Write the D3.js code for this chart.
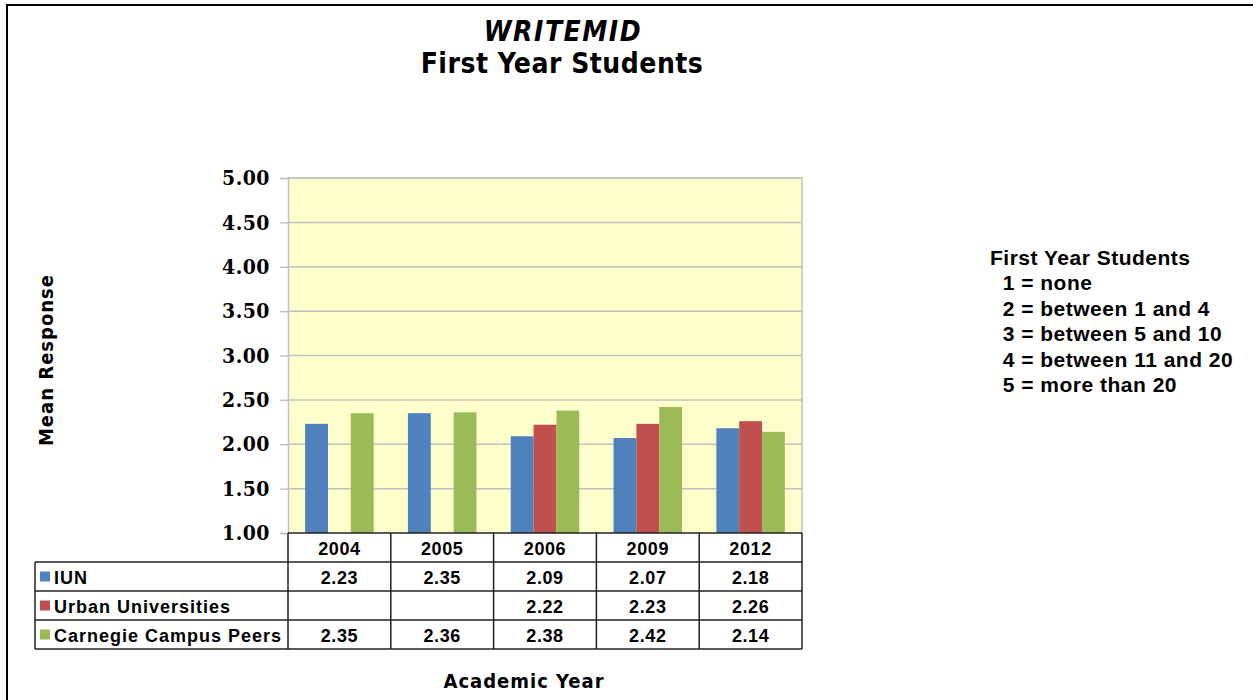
<!DOCTYPE html>
<html>
<head>
<meta charset="utf-8">
<script src="https://cdn.jsdelivr.net/npm/d3@7"></script>
<style>
  body { margin: 0; background: #fff; }
  svg { display: block; }
</style>
</head>
<body>
<svg id="chart" width="1253" height="700"></svg>
<script>
// data
const years = ["2004", "2005", "2006", "2009", "2012"];
const seriesNames = ["IUN", "Urban Universities", "Carnegie Campus Peers"];
const iun = [2.23, 2.35, 2.09, 2.07, 2.18];
const urban = [null, null, 2.22, 2.23, 2.26];
const carnegie = [2.35, 2.36, 2.38, 2.42, 2.14];
const colors = ["#4f81bd", "#c0504d", "#9bbb59"];
const yTicks = [1, 1.5, 2, 2.5, 3, 3.5, 4, 4.5, 5];
const legendLines = ["First Year Students", "  1 = none", "  2 = between 1 and 4",
	"  3 = between 5 and 10", "  4 = between 11 and 20", "  5 = more than 20"];

const values = [iun, urban, carnegie];

const svg = d3.select("#chart");
const titleFont = "'DejaVu Sans Condensed', 'DejaVu Sans', sans-serif";
const tableFont = "'Liberation Sans', Arial, sans-serif";

// outer frame (only top and left show)
svg.append("path")
	.attr("d", "M7,700 V5 H1253")
	.attr("fill", "none")
	.attr("stroke", "#000")
	.attr("stroke-width", 2);

// titles
svg.append("text")
	.attr("x", 563).attr("y", 41)
	.attr("text-anchor", "middle")
	.style("font-family", titleFont)
	.style("font-weight", "bold").style("font-style", "italic")
	.style("font-size", "28px")
	.style("letter-spacing", "1.5px")
	.text("WRITEMID");
svg.append("text")
	.attr("x", 562).attr("y", 73)
	.attr("text-anchor", "middle")
	.style("font-family", titleFont)
	.style("font-weight", "bold")
	.style("font-size", "28px")
	.style("letter-spacing", "0.5px")
	.text("First Year Students");

// plot area
const plotLeft = 288, plotRight = 802, plotTop = 178, plotBottom = 533;
const rowH = 29;

const x = d3.scaleBand().domain(years).range([plotLeft, plotRight]);
const y = d3.scaleLinear().domain([1, 5]).range([plotBottom, plotTop]);
const xInner = d3.scaleBand().domain(seriesNames)
	.range([0, x.bandwidth()]).paddingOuter(0.75).paddingInner(0);

svg.append("rect")
	.attr("x", plotLeft).attr("y", plotTop)
	.attr("width", plotRight - plotLeft).attr("height", plotBottom - plotTop)
	.attr("fill", "#ffffcc");

// gridlines
svg.append("g")
	.selectAll("line")
	.data(yTicks.slice(1))
	.join("line")
	.attr("x1", plotLeft).attr("x2", plotRight)
	.attr("y1", d => y(d)).attr("y2", d => y(d))
	.attr("stroke", "#c0c0c0").attr("stroke-width", 1.5);

// y axis
const yAxis = svg.append("g")
	.attr("transform", `translate(${plotLeft},0)`)
	.call(d3.axisLeft(y).tickValues(yTicks).tickFormat(d3.format(".2f")).tickSize(8).tickPadding(10));
yAxis.select(".domain").attr("stroke", "#c0c0c0").attr("stroke-width", 1.5);
yAxis.selectAll(".tick line").attr("stroke", "#c0c0c0").attr("stroke-width", 1.5);
yAxis.selectAll(".tick text")
	.attr("fill", "#000")
	.style("font-family", "'DejaVu Serif Condensed', 'DejaVu Serif', serif")
	.style("font-weight", "bold")
	.style("font-size", "21px")
	.style("letter-spacing", "0.5px");

// plot frame right/top
svg.append("path")
	.attr("d", `M${plotLeft},${plotTop} H${plotRight} V${plotBottom}`)
	.attr("fill", "none").attr("stroke", "#c0c0c0").attr("stroke-width", 1.5);

// bars
const barData = [];
years.forEach((yr, i) => {
	seriesNames.forEach((s, j) => {
		if (values[j][i] != null) barData.push({ yr, s, j, v: values[j][i] });
	});
});
svg.append("g")
	.selectAll("rect")
	.data(barData)
	.join("rect")
	.attr("x", d => x(d.yr) + xInner(d.s))
	.attr("width", xInner.bandwidth())
	.attr("y", d => y(d.v))
	.attr("height", d => y(1) - y(d.v))
	.attr("fill", d => colors[d.j]);

// data table
const table = svg.append("g")
	.style("font-family", tableFont)
	.style("font-weight", "bold")
	.style("font-size", "18px")
	.style("letter-spacing", "0.6px");
const tableLeft = 35;
const tableBottom = plotBottom + rowH * 4;
const lineColor = "#222";

// horizontal lines
table.append("line")
	.attr("x1", plotLeft).attr("x2", plotRight).attr("y1", plotBottom).attr("y2", plotBottom)
	.attr("stroke", lineColor).attr("stroke-width", 1.5);
for (let r = 1; r <= 4; r++) {
	table.append("line")
		.attr("x1", tableLeft).attr("x2", plotRight)
		.attr("y1", plotBottom + rowH * r).attr("y2", plotBottom + rowH * r)
		.attr("stroke", lineColor).attr("stroke-width", 1.5);
}
// vertical lines
table.append("line")
	.attr("x1", tableLeft).attr("x2", tableLeft)
	.attr("y1", plotBottom + rowH).attr("y2", tableBottom)
	.attr("stroke", lineColor).attr("stroke-width", 1.5);
[plotLeft, ...years.map(d => x(d) + x.bandwidth())].forEach(xv => {
	table.append("line")
		.attr("x1", xv).attr("x2", xv)
		.attr("y1", plotBottom).attr("y2", tableBottom)
		.attr("stroke", lineColor).attr("stroke-width", 1.5);
});

// header years
table.selectAll("text.year")
	.data(years)
	.join("text")
	.attr("class", "year")
	.attr("x", d => x(d) + x.bandwidth() / 2)
	.attr("y", plotBottom + rowH / 2 + 7)
	.attr("text-anchor", "middle")
	.text(d => d);

// series rows
seriesNames.forEach((s, j) => {
	const rowTop = plotBottom + rowH * (j + 1);
	table.append("rect")
		.attr("x", tableLeft + 5).attr("y", rowTop + rowH / 2 - 5)
		.attr("width", 10).attr("height", 10)
		.attr("fill", colors[j]);
	table.append("text")
		.attr("x", tableLeft + 19).attr("y", rowTop + rowH / 2 + 7)
		.style("letter-spacing", "1px")
		.text(s);
	table.selectAll(null)
		.data(years.map((yr, i) => ({ yr, v: values[j][i] })).filter(d => d.v != null))
		.join("text")
		.attr("x", d => x(d.yr) + x.bandwidth() / 2)
		.attr("y", rowTop + rowH / 2 + 7)
		.attr("text-anchor", "middle")
		.text(d => d3.format(".2f")(d.v));
});

// axis titles
svg.append("text")
	.attr("transform", "translate(53,360) rotate(-90)")
	.attr("text-anchor", "middle")
	.style("font-family", titleFont)
	.style("font-weight", "bold")
	.style("font-size", "20px")
	.style("letter-spacing", "1px")
	.text("Mean Response");
svg.append("text")
	.attr("x", 524).attr("y", 688)
	.attr("text-anchor", "middle")
	.style("font-family", titleFont)
	.style("font-weight", "bold")
	.style("font-size", "20px")
	.style("letter-spacing", "1px")
	.text("Academic Year");

// scale legend on the right
svg.append("g")
	.selectAll("text")
	.data(legendLines)
	.join("text")
	.attr("x", 990)
	.attr("y", (d, i) => 265 + i * 25.4)
	.attr("xml:space", "preserve")
	.style("white-space", "pre")
	.style("font-family", tableFont)
	.style("font-weight", "bold")
	.style("font-size", "21px")
	.style("letter-spacing", "0.5px")
	.text(d => d);
</script>
</body>
</html>
